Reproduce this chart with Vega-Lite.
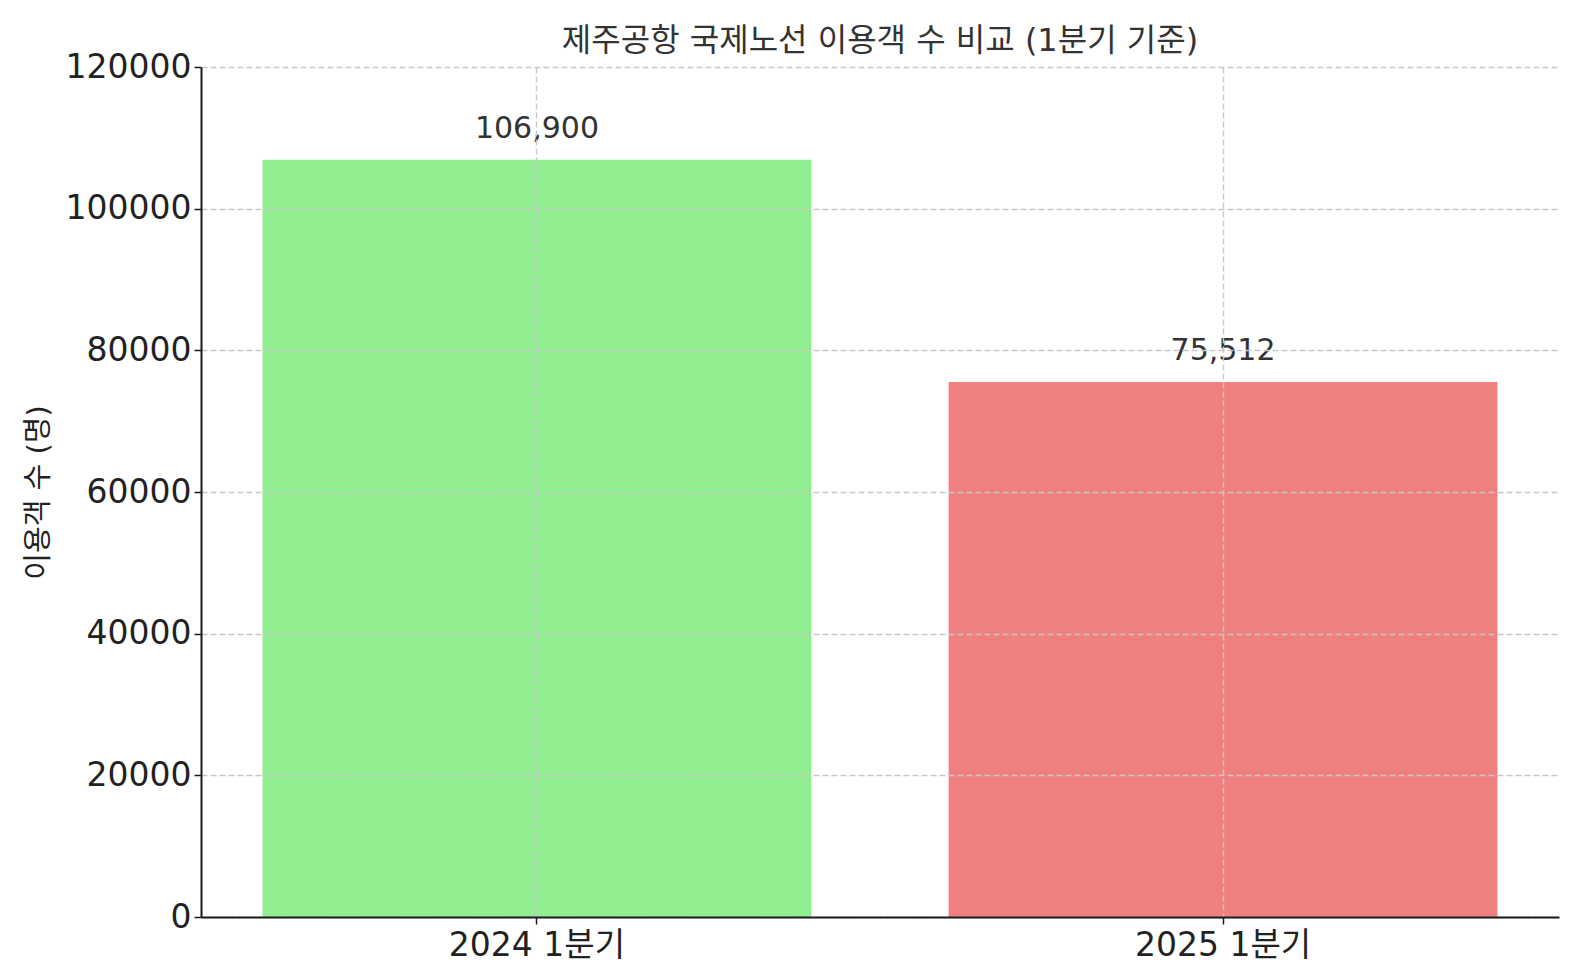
{
  "$schema": "https://vega.github.io/schema/vega-lite/v6.json",
  "autosize": "none",
  "padding": {"left": 201, "top": 67, "right": 21, "bottom": 63},
  "width": 1358,
  "height": 850,
  "background": "white",
  "config": {
    "font": "DejaVu Sans, Noto Sans CJK KR",
    "view": {"stroke": null},
    "axis": {
      "domainColor": "#1a1a1a",
      "domainWidth": 2,
      "tickColor": "#1a1a1a",
      "tickWidth": 1.5,
      "tickSize": 7,
      "labelColor": "#222222",
      "labelFontSize": 33,
      "labelFont": "DejaVu Sans, Noto Sans CJK KR",
      "gridColor": "#c8c8c8",
      "gridDash": [6, 3],
      "gridWidth": 1.4,
      "titleFont": "DejaVu Sans, Noto Sans CJK KR",
      "titleFontWeight": "normal",
      "titleColor": "#222222"
    }
  },
  "title": {
    "text": "제주공항 국제노선 이용객 수 비교 (1분기 기준)",
    "font": "DejaVu Sans, Noto Sans CJK KR",
    "fontSize": 32,
    "fontWeight": "normal",
    "color": "#333333",
    "offset": -7
  },
  "data": {
    "values": [
      {"period": "2024 1분기", "count": 106900, "label": "106,900"},
      {"period": "2025 1분기", "count": 75512, "label": "75,512"}
    ]
  },
  "encoding": {
    "x": {
      "field": "period",
      "type": "nominal",
      "sort": null,
      "scale": {"paddingInner": 0.2, "paddingOuter": 0.0897},
      "axis": {"title": null, "labelAngle": 0, "grid": true, "bandPosition": 0.5, "labelPadding": 5, "zindex": 1}
    }
  },
  "layer": [
    {
      "mark": {"type": "bar"},
      "encoding": {
        "y": {
          "field": "count",
          "type": "quantitative",
          "scale": {"domain": [0, 120000], "nice": false},
          "axis": {
            "title": "이용객 수 (명)",
            "titleFontSize": 29,
            "titlePadding": 12,
            "values": [0, 20000, 40000, 60000, 80000, 100000, 120000],
            "format": "d",
            "labelPadding": 3,
            "grid": true,
            "zindex": 1
          }
        },
        "color": {
          "field": "period",
          "type": "nominal",
          "scale": {"range": ["#90EE90", "#F08080"]},
          "legend": null
        }
      }
    },
    {
      "mark": {"type": "text", "baseline": "alphabetic", "dy": -22, "fontSize": 30, "color": "#333333", "font": "DejaVu Sans"},
      "encoding": {
        "y": {"field": "count", "type": "quantitative"},
        "text": {"field": "label"}
      }
    }
  ]
}
